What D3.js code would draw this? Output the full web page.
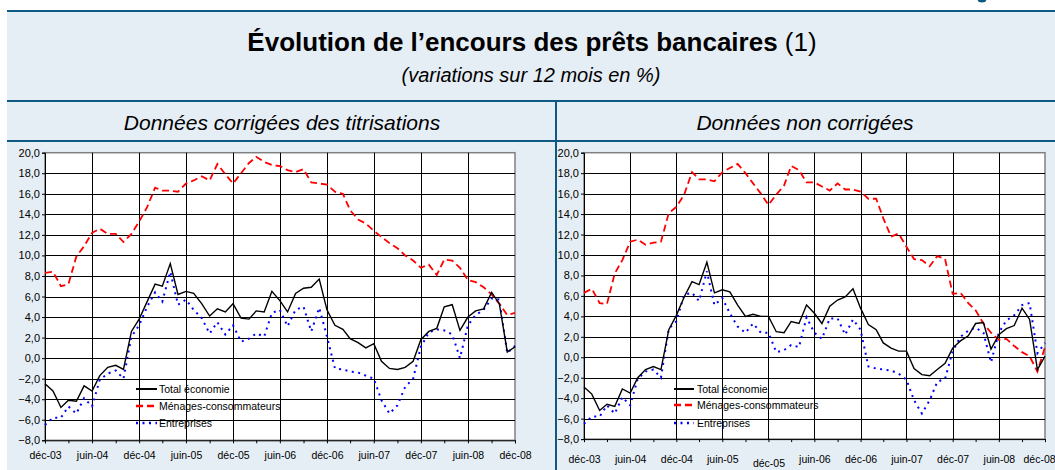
<!DOCTYPE html>
<html lang="fr">
<head>
<meta charset="UTF-8">
<title>Évolution de l'encours des prêts bancaires</title>
<script src="https://cdn.jsdelivr.net/npm/d3@7"></script>
<style>
  body { margin: 0; background: #fff; }
  svg { display: block; font-family: Arial, "Liberation Sans", sans-serif; }
</style>
</head>
<body>
<svg class="root"></svg>
<script>
// monthly series, déc-03 .. déc-08 (61 points), % change over 12 months
const startMonth = new Date(2003, 11, 1);
const endMonth = new Date(2008, 11, 1);

const xTickLabels = ["déc-03", "juin-04", "déc-04", "juin-05", "déc-05", "juin-06",
  "déc-06", "juin-07", "déc-07", "juin-08", "déc-08"];
const yTicks = [-8, -6, -4, -2, 0, 2, 4, 6, 8, 10, 12, 14, 16, 18, 20];

const seriesNames = ["Total économie", "Ménages-consommateurs", "Entreprises"];

// données corrigées des titrisations
const totalCorr = [-2.5, -3.2, -4.8, -4.1, -4.2, -2.7, -3.2, -1.7, -0.9, -0.7, -1.1, 2.6, 3.8,
  5.5, 7.2, 7.0, 9.2, 6.2, 6.5, 6.3, 5.3, 4.1, 4.8, 4.5, 5.3, 3.9, 3.8, 4.6, 4.5, 6.5,
  5.6, 4.5, 6.3, 6.8, 6.9, 7.7, 4.7, 3.2, 2.8, 1.9, 1.5, 1.0, 1.4, -0.3, -1.0, -1.1,
  -0.9, -0.3, 1.8, 2.6, 2.9, 5.0, 5.2, 2.7, 4.0, 4.6, 4.8, 6.4, 5.3, 0.6, 1.1];
const menagesCorr = [8.3, 8.4, 7.0, 7.2, 9.9, 10.9, 12.2, 12.6, 12.1, 12.1, 11.3, 12.1, 13.3,
  14.7, 16.6, 16.3, 16.3, 16.2, 17.0, 17.3, 17.7, 17.3, 18.9, 17.9, 17.0, 18.0, 19.0, 19.6,
  19.1, 18.8, 18.7, 18.3, 18.1, 18.4, 17.1, 17.0, 16.9, 16.2, 16.0, 14.4, 13.5, 13.1, 12.4,
  11.8, 11.2, 10.7, 10.0, 9.5, 8.8, 9.1, 8.1, 9.6, 9.5, 8.8, 7.6, 7.4, 6.9, 6.2, 5.3, 4.2, 4.4];
const entreprisesCorr = [-6.5, -5.8, -5.8, -4.7, -5.4, -3.9, -4.7, -2.1, -1.5, -1.2, -2.0, 2.1, 3.2,
  5.0, 6.4, 5.5, 8.4, 5.2, 5.7, 4.7, 3.9, 2.4, 3.5, 2.3, 3.2, 1.6, 1.9, 2.4, 2.1, 4.4,
  4.7, 3.1, 4.7, 5.0, 2.6, 4.9, 2.1, -1.0, -1.1, -1.3, -1.4, -1.7, -2.0, -4.1, -5.4, -4.6,
  -2.8, -2.0, 1.1, 2.5, 2.8, 2.7, 2.3, 0.0, 3.2, 4.2, 4.7, 5.8, 5.7, 0.5, 1.2];

// données non corrigées
const totalBrut = [-2.9, -3.6, -5.2, -4.6, -4.8, -3.1, -3.5, -2.0, -1.2, -0.9, -1.2, 2.7, 4.1,
  5.9, 7.4, 7.1, 9.3, 6.3, 6.6, 6.4, 5.1, 4.0, 4.2, 4.0, 4.0, 2.5, 2.4, 3.5, 3.3, 5.1,
  4.3, 3.3, 5.0, 5.6, 5.9, 6.7, 4.8, 3.2, 2.7, 1.4, 0.9, 0.6, 0.6, -1.1, -1.7, -1.8,
  -1.2, -0.6, 0.9, 1.6, 2.1, 3.3, 3.4, 0.8, 2.2, 2.8, 3.1, 4.8, 3.7, -1.2, 0.1];
const menagesBrut = [6.3, 6.7, 5.3, 5.2, 8.2, 9.5, 11.3, 11.5, 11.0, 11.2, 11.3, 14.1, 14.7,
  15.9, 18.1, 17.4, 17.4, 17.2, 18.1, 18.5, 18.9, 18.0, 17.0, 16.0, 14.9, 15.9, 16.8, 18.7,
  18.3, 17.1, 17.1, 16.7, 16.3, 17.0, 16.4, 16.4, 16.2, 15.5, 15.5, 13.6, 11.8, 12.1, 10.8,
  9.6, 9.5, 8.9, 9.9, 9.6, 6.2, 6.3, 5.3, 4.6, 3.3, 2.4, 1.7, 1.8, 1.1, 0.5, 0.1, -1.4, 1.0];
const entreprisesBrut = [-6.5, -5.8, -5.8, -4.7, -5.5, -3.9, -4.7, -2.1, -1.4, -1.2, -2.0, 2.8, 3.5,
  6.1, 6.3, 5.5, 8.4, 5.1, 5.8, 4.3, 3.0, 2.4, 3.3, 2.4, 2.4, 0.5, 0.7, 1.2, 1.0, 3.9,
  2.4, 1.8, 3.8, 3.8, 2.2, 3.7, 2.7, -0.9, -1.1, -1.2, -1.3, -1.6, -2.2, -4.2, -5.5, -4.2,
  -2.4, -2.1, 0.6, 2.0, 2.6, 2.9, 2.4, -0.5, 2.4, 3.6, 4.1, 5.1, 5.3, 0.4, 1.4];

const width = 1055, height = 470;
const frameColor = "#0f5a82";
const bgColor = "#e6eef5";

const months = d3.timeMonth.range(startMonth, d3.timeMonth.offset(endMonth, 1));
const commaFmt = d3.formatLocale({decimal: ",", thousands: " ", grouping: [3], currency: ["", "€"]}).format(".1f");

const styles = [
  {stroke: "#000", width: 1.4, dash: null},
  {stroke: "#ff0000", width: 1.8, dash: "7,4"},
  {stroke: "#0000ff", width: 2, dash: "2,4.5"}
];

const panels = [
  {
    title: "Données corrigées des titrisations", cx: 282,
    left: 45, right: 515, top: 152.7, bottom: 440.3, labelY: 11,
    legend: {x: 136, x2: 157, tx: 159, ys: [389, 406, 423]},
    series: [totalCorr, menagesCorr, entreprisesCorr],
    labelShift: {}
  },
  {
    title: "Données non corrigées", cx: 805,
    left: 584, right: 1045, top: 152.7, bottom: 439.1, labelY: 16,
    legend: {x: 674, x2: 694, tx: 697, ys: [389, 405, 423]},
    series: [totalBrut, menagesBrut, entreprisesBrut],
    // labels nudged as in the original: déc-05 sits lower, déc-08 pulled in from the edge
    labelShift: {4: [0, 4], 10: [-6, 0]}
  }
];

const svg = d3.select(".root")
  .attr("width", width)
  .attr("height", height);

// frame / background
svg.append("rect").attr("x", 7).attr("y", 11).attr("width", width - 7).attr("height", height - 11)
  .attr("fill", bgColor);
svg.append("ellipse").attr("cx", 982).attr("cy", -1).attr("rx", 4.5).attr("ry", 3.5).attr("fill", frameColor);

[11, 101, 141].forEach(y => {
  svg.append("line").attr("x1", 7).attr("x2", width).attr("y1", y).attr("y2", y)
    .attr("stroke", frameColor).attr("stroke-width", 2);
});
svg.append("line").attr("x1", 556).attr("x2", 556).attr("y1", 101).attr("y2", height)
  .attr("stroke", frameColor).attr("stroke-width", 2);

// titles
const title = svg.append("text")
  .attr("x", 532).attr("y", 51)
  .attr("text-anchor", "middle")
  .attr("font-size", 26)
  .attr("fill", "#000");
title.append("tspan").attr("font-weight", "bold").text("Évolution de l’encours des prêts bancaires");
title.append("tspan").text(" (1)");

svg.append("text")
  .attr("x", 531).attr("y", 81.5)
  .attr("text-anchor", "middle")
  .attr("font-size", 20)
  .attr("font-style", "italic")
  .text("(variations sur 12 mois en %)");

panels.forEach(p => {
  svg.append("text")
    .attr("x", p.cx).attr("y", 130)
    .attr("text-anchor", "middle")
    .attr("font-size", 21)
    .attr("font-style", "italic")
    .text(p.title);

  const x = d3.scaleTime().domain([startMonth, endMonth]).range([p.left, p.right]);
  const y = d3.scaleLinear().domain([-8, 20]).range([p.bottom, p.top]);

  const g = svg.append("g");

  g.append("rect")
    .attr("x", p.left).attr("y", p.top)
    .attr("width", p.right - p.left).attr("height", p.bottom - p.top)
    .attr("fill", "#fff")
    .attr("stroke", "#808080").attr("stroke-width", 1.5);

  const halfYears = months.filter((d, i) => i % 6 === 0);
  const quarters = months.filter((d, i) => i % 3 === 0);

  // grid
  g.append("g")
    .selectAll("line")
    .data(yTicks.filter(v => v > -8 && v < 20))
    .join("line")
    .attr("x1", p.left).attr("x2", p.right)
    .attr("y1", d => Math.round(y(d)) + 0.5).attr("y2", d => Math.round(y(d)) + 0.5)
    .attr("stroke", "#000").attr("stroke-width", 1);

  g.append("g")
    .selectAll("line")
    .data(halfYears.slice(1, -1))
    .join("line")
    .attr("x1", d => Math.round(x(d)) + 0.5).attr("x2", d => Math.round(x(d)) + 0.5)
    .attr("y1", p.top).attr("y2", p.bottom)
    .attr("stroke", "#000").attr("stroke-width", 1);

  // axes
  g.append("g")
    .attr("transform", `translate(${p.left},0)`)
    .call(d3.axisLeft(y).tickValues(yTicks).tickSize(3).tickPadding(2).tickFormat(commaFmt))
    .call(a => a.selectAll("text").attr("font-size", 11).attr("fill", "#000"))
    .call(a => a.attr("font-family", null));

  g.append("g")
    .attr("transform", `translate(0,${p.bottom})`)
    .call(d3.axisBottom(x).tickValues(quarters).tickSize(3).tickFormat(""))
    .call(a => a.attr("font-family", null));

  g.append("g")
    .attr("transform", `translate(0,${p.bottom})`)
    .call(d3.axisBottom(x).tickValues(halfYears).tickSize(0).tickPadding(p.labelY)
      .tickFormat((d, i) => xTickLabels[i]))
    .call(a => a.select(".domain").remove())
    .call(a => a.attr("font-family", null))
    .call(a => a.selectAll("text")
      .attr("font-size", 10.5).attr("fill", "#000")
      .attr("dx", (d, i) => p.labelShift[i] ? p.labelShift[i][0] : 0)
      .attr("transform", (d, i) => p.labelShift[i] ? `translate(0,${p.labelShift[i][1]})` : null));

  // legend (drawn under the lines)
  const lg = g.append("g");
  seriesNames.forEach((name, k) => {
    const ly = p.legend.ys[k];
    lg.append("line")
      .attr("x1", p.legend.x).attr("x2", p.legend.x2)
      .attr("y1", ly).attr("y2", ly)
      .attr("stroke", styles[k].stroke)
      .attr("stroke-width", styles[k].width + 0.6)
      .attr("stroke-dasharray", styles[k].dash);
    lg.append("text")
      .attr("x", p.legend.tx).attr("y", ly + 3.8)
      .attr("font-size", 10.5)
      .attr("fill", "#000")
      .text(name);
  });

  // series
  const line = d3.line()
    .x((d, i) => x(months[i]))
    .y(d => y(d));

  [2, 1, 0].forEach(k => {
    g.append("path")
      .datum(p.series[k])
      .attr("d", line)
      .attr("fill", "none")
      .attr("stroke", styles[k].stroke)
      .attr("stroke-width", styles[k].width)
      .attr("stroke-dasharray", styles[k].dash)
      .attr("stroke-linejoin", "miter");
  });
});
</script>
</body>
</html>
